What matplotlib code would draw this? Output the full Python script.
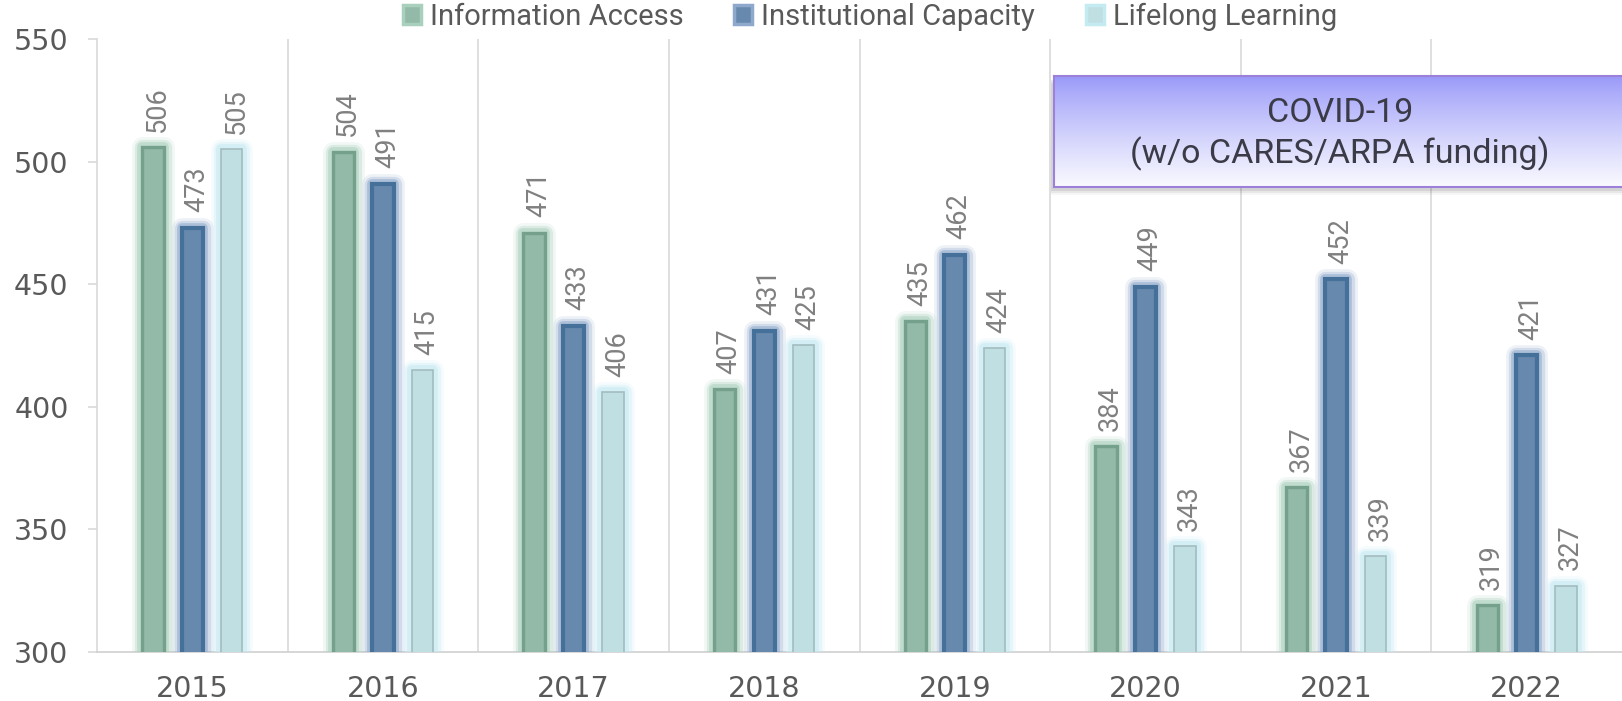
import numpy as np
import matplotlib
matplotlib.use("Agg")
import matplotlib.pyplot as plt
import matplotlib.patheffects as pe
from matplotlib.patches import Patch, Rectangle
from matplotlib.colors import to_rgb

years = ["2015", "2016", "2017", "2018", "2019", "2020", "2021", "2022"]
series = ["Information Access", "Institutional Capacity", "Lifelong Learning"]
info_access = [506, 504, 471, 407, 435, 384, 367, 319]
inst_capacity = [473, 491, 433, 431, 462, 449, 452, 421]
lifelong = [505, 415, 406, 425, 424, 343, 339, 327]

faces = ["#93b9a8", "#6789ad", "#c0dfe3"]
edges = ["#74a08c", "#44709a", "#a2bcc0"]
glows = ["#a9d0bd", "#8fa9cc", "#c4eaf2"]
edge_w = [2.4, 3.0, 1.2]

W, H = 1622, 701
fig = plt.figure(figsize=(W / 100, H / 100), dpi=100)
ax = fig.add_axes([97 / W, 1 - 651.7 / H, 1525 / W, 612.7 / H])

x = np.arange(len(years))
pitch = 0.207
bw = 0.112
for i, vals in enumerate([info_access, inst_capacity, lifelong]):
    xs = x + (i - 1) * pitch
    bars = ax.bar(xs, vals, bw, color=faces[i], edgecolor=edges[i],
                  linewidth=edge_w[i], zorder=3)
    for b in bars:
        b.set_path_effects([
            pe.Stroke(linewidth=15, foreground=glows[i], alpha=0.15, joinstyle="round"),
            pe.Stroke(linewidth=11, foreground=glows[i], alpha=0.3, joinstyle="round"),
            pe.Stroke(linewidth=7, foreground=glows[i], alpha=0.55, joinstyle="round"),
            pe.Normal(),
        ])
    for xv, v in zip(xs, vals):
        ax.annotate(str(v), (xv, v), xytext=(1, 11), textcoords="offset points",
                    rotation=90, rotation_mode="anchor", ha="left",
                    va="center_baseline", fontsize=19.5, family="Roboto",
                    color="#808080", zorder=4)

ax.set_xlim(-0.5, 7.5)
ax.set_ylim(300, 550)
ax.set_yticks([300, 350, 400, 450, 500, 550])
ax.set_xticks(x)
ax.set_xticklabels(years)
ax.set_xticks(np.arange(0.5, 7.5, 1), minor=True)
ax.grid(which="minor", axis="x", color="#d9d9d9", linewidth=1.2, zorder=0)
ax.tick_params(axis="x", which="both", length=0, pad=17, labelsize=20.5,
               labelcolor="#595959")
ax.tick_params(axis="y", length=6.5, width=1.2, color="#d9d9d9", pad=14,
               labelsize=20.5, labelcolor="#595959")
for s in ["top", "right"]:
    ax.spines[s].set_visible(False)
ax.spines["left"].set_color("#d9d9d9")
ax.spines["left"].set_linewidth(1.2)
ax.spines["bottom"].set_color("#d0d0d0")
ax.spines["bottom"].set_linewidth(1.2)

handles = [Patch(facecolor=faces[i], edgecolor=glows[i], linewidth=2.5)
           for i in range(3)]
fig.legend(handles, series, loc="center", bbox_to_anchor=(870 / W, 1 - 17 / H),
           ncol=3, frameon=False, prop={"family": "Roboto", "size": 21},
           labelcolor="#595959", handlelength=0.62, handleheight=0.62,
           handletextpad=0.3, columnspacing=1.75, borderaxespad=0)

# COVID-19 callout box
bx0, bx1, by0, by1 = 1054, 1700, 76, 187
for k, a in [(8, 0.05), (6, 0.09), (4, 0.13)]:
    fig.patches.append(Rectangle(((bx0 - 3) / W, 1 - (by1 + k) / H),
                                 (bx1 - bx0) / W, (by1 - by0) / H,
                                 transform=fig.transFigure, color="#555555",
                                 alpha=a, lw=0, zorder=4))
bax = fig.add_axes([bx0 / W, 1 - by1 / H, (bx1 - bx0) / W, (by1 - by0) / H],
                   zorder=5)
top = np.array(to_rgb("#9898f9"))
bot = np.array(to_rgb("#fafaff"))
t = np.linspace(0, 1, 200) ** 0.85
grad = top[None, :] * (1 - t[:, None]) + bot[None, :] * t[:, None]
bax.imshow(grad[:, None, :], aspect="auto", extent=[0, 1, 0, 1])
bax.set_xticks([])
bax.set_yticks([])
for s in bax.spines.values():
    s.set_color("#9d80da")
    s.set_linewidth(1.5)
fig.text(1340 / W, 1 - 122 / H, "COVID-19", ha="center", va="baseline",
         fontsize=24.5, family="Roboto", color="#3b3b48", zorder=6)
fig.text(1340 / W, 1 - 163 / H, "(w/o CARES/ARPA funding)", ha="center",
         va="baseline", fontsize=24.5, family="Roboto", color="#3b3b48", zorder=6)

fig.savefig("out.png", dpi=100)
